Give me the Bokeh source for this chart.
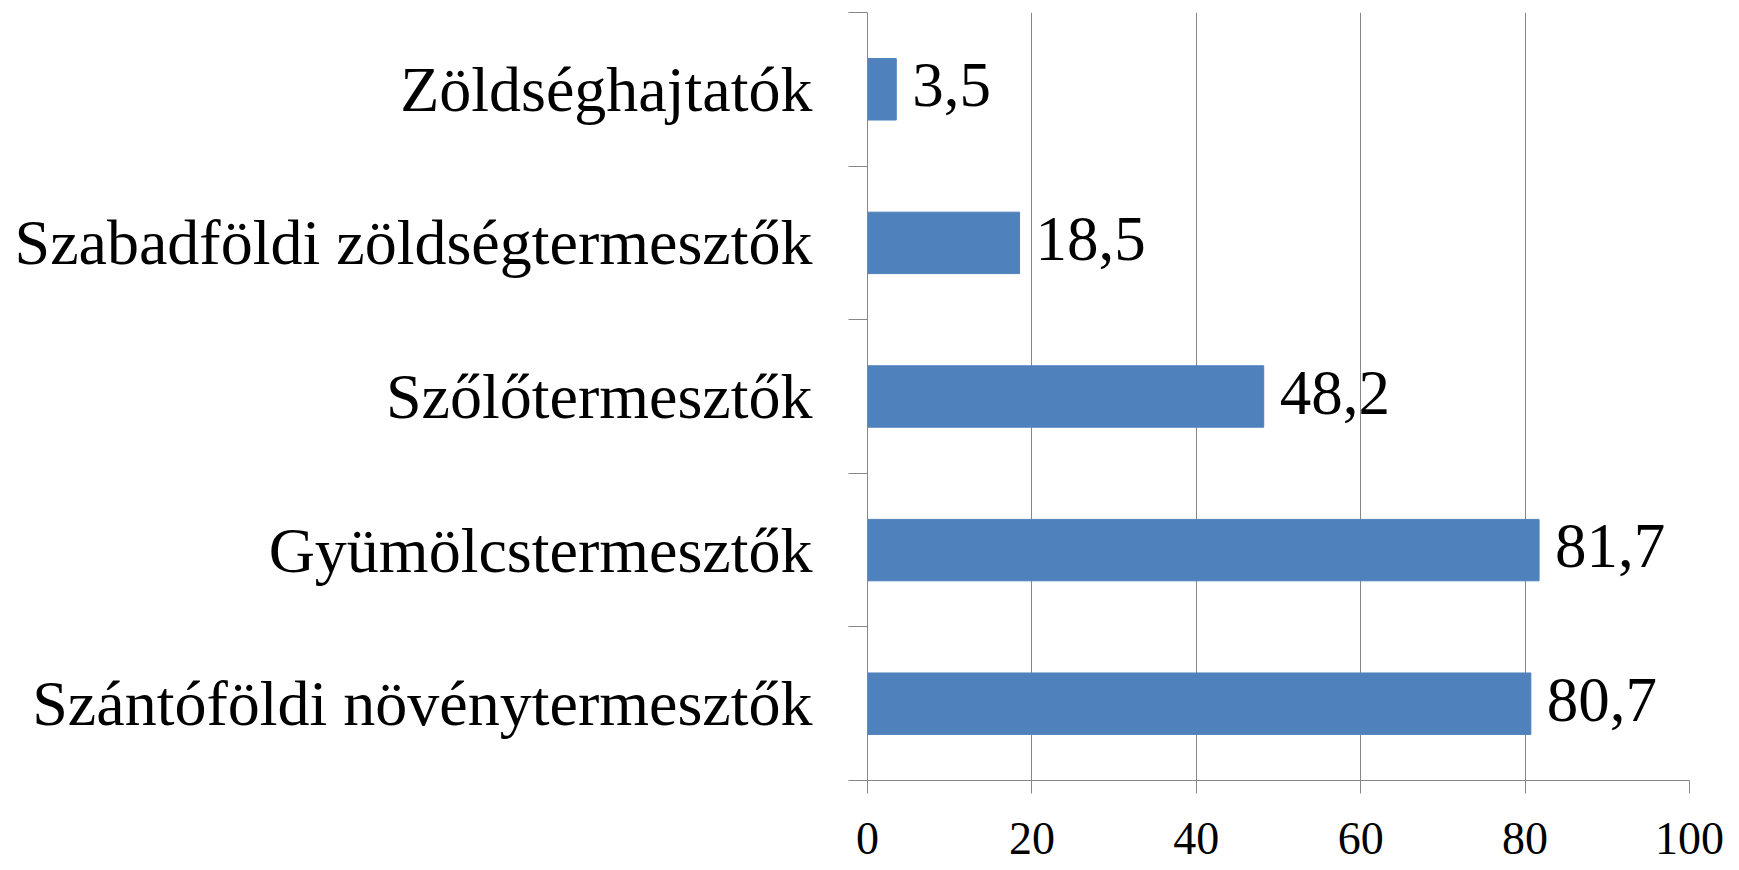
from bokeh.plotting import figure
from bokeh.models import Range1d, LinearAxis, FixedTicker, ColumnDataSource
from bokeh.embed import file_html
from bokeh.resources import INLINE
from bokeh.core.properties import value

categories = ["Szántóföldi növénytermesztők", "Gyümölcstermesztők", "Szőlőtermesztők",
              "Szabadföldi zöldségtermesztők", "Zöldséghajtatók"]
values = [80.7, 81.7, 48.2, 18.5, 3.5]
x_ticks = [0, 20, 40, 60, 80, 100]

ys = [i + 0.5 for i in range(len(categories))]
labels = [f"{v:.1f}".replace(".", ",") for v in values]
src = ColumnDataSource(dict(y=ys, v=values, lab=labels))

FONT = "Liberation Serif"
GRAY = "#878787"

p = figure(width=1739, height=870, output_backend="svg", toolbar_location=None,
           x_range=Range1d(0, 100), y_range=Range1d(0, len(categories)),
           x_axis_location=None, y_axis_location=None,
           min_border_left=867, min_border_right=50, min_border_top=12, min_border_bottom=90)
p.outline_line_color = None
p.background_fill_color = "white"
p.border_fill_color = "white"

xa = LinearAxis(ticker=FixedTicker(ticks=x_ticks, minor_ticks=[]))
xa.axis_line_color = GRAY
xa.major_tick_line_color = GRAY
xa.major_tick_in = 0
xa.major_tick_out = 13
xa.minor_tick_line_color = None
xa.minor_tick_out = 0
xa.minor_tick_in = 0
xa.major_label_text_font = FONT
xa.major_label_text_font_size = "46px"
xa.major_label_text_color = "black"
xa.major_label_standoff = 29
p.add_layout(xa, "below")

ya = LinearAxis(ticker=FixedTicker(ticks=ys, minor_ticks=list(range(len(categories) + 1))))
ya.major_label_overrides = {y: c for y, c in zip(ys, categories)}
ya.axis_line_color = GRAY
ya.major_tick_line_color = None
ya.major_tick_in = 0
ya.major_tick_out = 0
ya.minor_tick_line_color = GRAY
ya.minor_tick_in = 0
ya.minor_tick_out = 19
ya.major_label_text_font = FONT
ya.major_label_text_font_size = "64px"
ya.major_label_text_color = "black"
ya.major_label_standoff = 36
p.add_layout(ya, "left")

p.xgrid.ticker = FixedTicker(ticks=x_ticks)
p.xgrid.grid_line_color = GRAY
p.xgrid.grid_line_width = 1
p.ygrid.grid_line_color = None

p.hbar(y="y", right="v", left=0, height=0.4, source=src,
       fill_color="#4F81BD", line_color="#4F81BD", line_width=1)

p.text(x="v", y="y", text="lab", source=src, x_offset=16, y_offset=-4,
       text_align="left", text_baseline="middle",
       text_font=value(FONT), text_font_size="63px", text_color="black")

open("out.html", "w").write(file_html(p, INLINE))
